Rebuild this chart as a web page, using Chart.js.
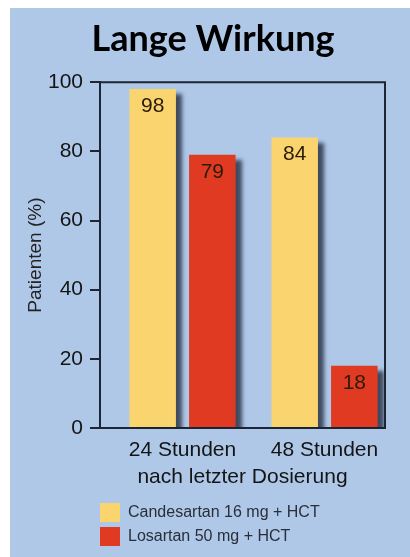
<!DOCTYPE html>
<html>
<head>
<meta charset="utf-8">
<script src="https://cdn.jsdelivr.net/npm/chart.js@4.4.1/dist/chart.umd.min.js"></script>
<style>
  html, body { margin: 0; padding: 0; background: #ffffff; }
  #wrap { position: absolute; left: 10px; top: 8px; width: 400px; height: 549px; background: #afc8e8; }
  canvas { display: block; }
</style>
</head>
<body>
<div id="wrap"><canvas id="c" width="400" height="549"></canvas></div>
<script>
// ---- data ----
const chartTitle = 'Lange Wirkung';
const categories = ['24 Stunden', '48 Stunden'];
const seriesNames = ['Candesartan 16 mg + HCT', 'Losartan 50 mg + HCT'];
const candesartan = [98, 84];
const losartan = [79, 18];
const yTickValues = [0, 20, 40, 60, 80, 100];
const yAxisTitle = 'Patienten (%)';
const xAxisTitle = 'nach letzter Dosierung';

// ---- styles ----
const yellow = '#f9d46f';
const red = '#e03b22';
const axisColor = '#1e2535';
const textColor = '#141414';

const toPoints = arr => arr.map((v, i) => ({ x: i, y: v }));

const shadowAndLabels = {
  id: 'shadowAndLabels',
  afterLayout(chart) {
    // start legend rows flush with the plot's left edge
    const lg = chart.legend;
    if (lg) { const p = lg.options.labels.padding; lg.left -= p; lg.right -= p; }
  },
  beforeDatasetsDraw(chart) {
    const ctx = chart.ctx;
    ctx.save();
    ctx.shadowColor = 'rgba(25,32,50,0.75)';
    ctx.shadowBlur = 4;
    ctx.shadowOffsetX = 6;
    ctx.shadowOffsetY = 5;
  },
  afterDatasetsDraw(chart) {
    const ctx = chart.ctx;
    ctx.restore();
    const area = chart.chartArea;
    // frame (top and right)
    ctx.save();
    ctx.strokeStyle = axisColor;
    ctx.lineWidth = 2;
    ctx.beginPath();
    ctx.moveTo(area.left, area.top);
    ctx.lineTo(area.right, area.top);
    ctx.lineTo(area.right, area.bottom);
    ctx.stroke();
    ctx.restore();
    // value labels
    ctx.save();
    ctx.font = '21px "Liberation Sans", Arial, sans-serif';
    ctx.textAlign = 'center';
    ctx.textBaseline = 'middle';
    chart.data.datasets.forEach((ds, di) => {
      const meta = chart.getDatasetMeta(di);
      meta.data.forEach((el, i) => {
        ctx.fillStyle = '#2a1c08';
        ctx.fillText(String(ds.data[i].y), el.x, el.y + 17);
      });
    });
    ctx.restore();
  }
};

new Chart(document.getElementById('c'), {
  type: 'bar',
  data: {
    datasets: [
      { label: seriesNames[0], data: toPoints(candesartan), backgroundColor: yellow, borderWidth: 0 },
      { label: seriesNames[1], data: toPoints(losartan), backgroundColor: red, borderWidth: 0 }
    ]
  },
  plugins: [shadowAndLabels],
  options: {
    responsive: false,
    animation: false,
    categoryPercentage: 0.84,
    barPercentage: 0.78,
    layout: { padding: { left: 6, right: 0, top: 0, bottom: 1 } },
    plugins: {
      title: {
        display: true,
        text: chartTitle,
        color: '#000000',
        font: { family: 'Lato', weight: 'bold', size: 36, lineHeight: 1.2 },
        padding: { top: 10, bottom: 21 }
      },
      legend: {
        display: true,
        position: 'bottom',
        align: 'start',
        fullSize: false,
        labels: {
          boxWidth: 20,
          boxHeight: 19,
          padding: 5,
          color: '#2a2e3a',
          font: { family: 'Liberation Sans', size: 16 }
        }
      },
      tooltip: { enabled: false }
    },
    scales: {
      x: {
        type: 'linear',
        offset: false,
        min: -0.581,
        max: 1.426,
        afterBuildTicks(scale) { scale.ticks = categories.map((c, i) => ({ value: i })); },
        afterFit(scale) { scale.height = 70; },
        ticks: {
          color: textColor,
          padding: 10,
          font: { family: 'Liberation Sans', size: 21 },
          callback: (v) => categories[Math.round(v)]
        },
        grid: { display: false, drawTicks: false, offset: false },
        border: { display: true, color: axisColor, width: 2 },
        title: {
          display: true,
          text: xAxisTitle,
          color: textColor,
          font: { family: 'Liberation Sans', size: 21 },
          padding: { top: 0, bottom: 8 }
        }
      },
      y: {
        min: 0,
        max: 100,
        afterBuildTicks(scale) { scale.ticks = yTickValues.map(v => ({ value: v })); },
        afterFit(scale) { scale.width = 84; },
        ticks: {
          color: textColor,
          padding: 7,
          font: { family: 'Liberation Sans', size: 21 }
        },
        grid: {
          display: true,
          drawOnChartArea: false,
          drawTicks: true,
          tickLength: 10,
          color: axisColor,
          lineWidth: 2
        },
        border: { display: true, color: axisColor, width: 2 },
        title: {
          display: true,
          text: yAxisTitle,
          color: '#222222',
          font: { family: 'Liberation Sans', size: 19 },
          padding: { top: 8, bottom: 0 }
        }
      },
      yRight: {
        position: 'right',
        min: 0,
        max: 100,
        afterFit(scale) { scale.width = 25; },
        ticks: { display: false },
        grid: { display: false, drawTicks: false },
        border: { display: false }
      }
    }
  }
});
</script>
</body>
</html>
